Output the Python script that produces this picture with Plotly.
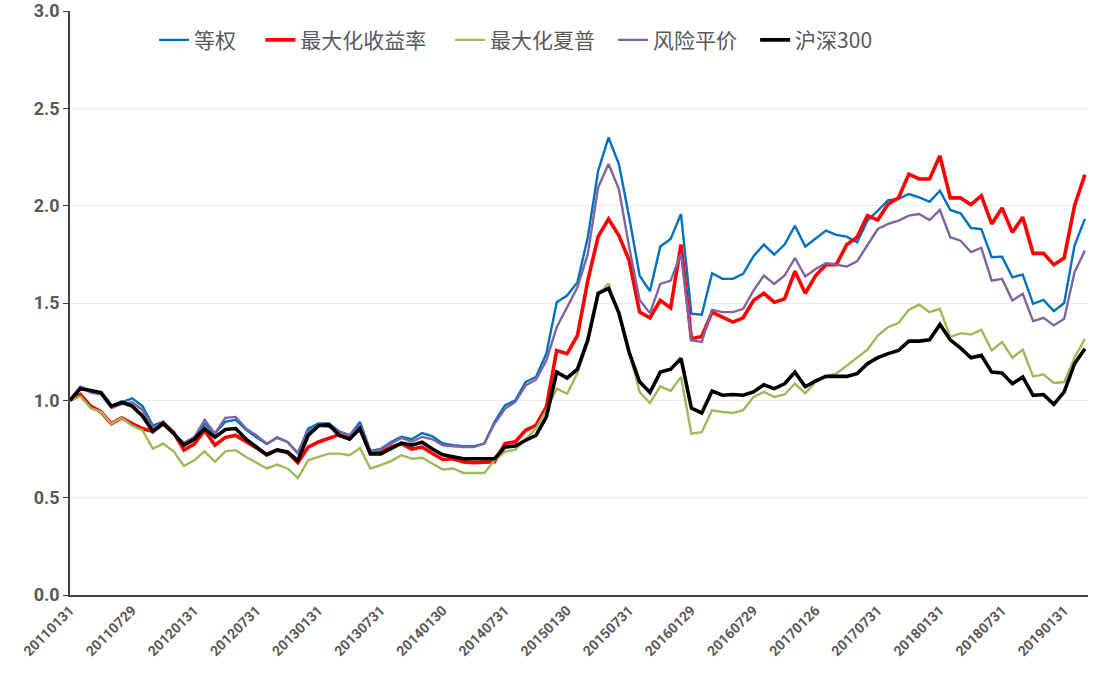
import plotly.graph_objects as go

# Monthly categories 2011-01 .. 2019-03 (99 points)
months = [f"{2011 + m // 12}{m % 12 + 1:02d}" for m in range(99)]

tick_labels = ["20110131", "20110729", "20120131", "20120731", "20130131", "20130731",
               "20140130", "20140731", "20150130", "20150731", "20160129", "20160729",
               "20170126", "20170731", "20180131", "20180731", "20190131"]

equal_weight = [1.00, 1.07, 1.05, 1.04, 0.97, 0.99, 1.01, 0.97, 0.87, 0.89,
                0.83, 0.78, 0.81, 0.88, 0.83, 0.89, 0.90, 0.85, 0.81, 0.775,
                0.81, 0.786, 0.73, 0.855, 0.881, 0.881, 0.84, 0.82, 0.889, 0.74,
                0.75, 0.786, 0.813, 0.80, 0.832, 0.815, 0.778, 0.769, 0.764, 0.764,
                0.778, 0.889, 0.974, 1.00, 1.094, 1.12, 1.24, 1.504, 1.538, 1.607,
                1.838, 2.179, 2.35, 2.214, 1.94, 1.641, 1.561, 1.79, 1.829, 1.957,
                1.445, 1.44, 1.653, 1.624, 1.624, 1.65, 1.74, 1.80, 1.749, 1.80,
                1.897, 1.79, 1.829, 1.872, 1.85, 1.841, 1.812, 1.923, 1.974, 2.029,
                2.035, 2.06, 2.043, 2.02, 2.077, 1.978, 1.961, 1.885, 1.88, 1.735,
                1.738, 1.632, 1.646, 1.496, 1.516, 1.458, 1.50, 1.795, 1.932]

max_return = [1.00, 1.03, 0.97, 0.94, 0.88, 0.91, 0.88, 0.855, 0.84, 0.885,
              0.835, 0.745, 0.775, 0.845, 0.77, 0.81, 0.82, 0.786, 0.752, 0.723,
              0.744, 0.732, 0.68, 0.76, 0.786, 0.803, 0.824, 0.81, 0.851, 0.73,
              0.735, 0.76, 0.778, 0.75, 0.76, 0.727, 0.696, 0.70, 0.684, 0.68,
              0.68, 0.684, 0.778, 0.787, 0.846, 0.872, 0.966, 1.256, 1.24, 1.333,
              1.615, 1.841, 1.932, 1.846, 1.718, 1.453, 1.424, 1.513, 1.475, 1.80,
              1.316, 1.328, 1.453, 1.427, 1.402, 1.424, 1.513, 1.55, 1.504, 1.521,
              1.663, 1.55, 1.641, 1.697, 1.697, 1.80, 1.838, 1.949, 1.926, 2.009,
              2.04, 2.162, 2.137, 2.137, 2.256, 2.04, 2.04, 2.005, 2.051, 1.906,
              1.988, 1.863, 1.94, 1.755, 1.755, 1.697, 1.731, 2.00, 2.159]

max_sharpe = [1.00, 1.02, 0.96, 0.94, 0.88, 0.91, 0.87, 0.846, 0.752, 0.778,
              0.738, 0.663, 0.692, 0.738, 0.684, 0.738, 0.744, 0.709, 0.68, 0.65,
              0.67, 0.65, 0.60, 0.692, 0.709, 0.726, 0.726, 0.718, 0.755, 0.65,
              0.667, 0.688, 0.718, 0.70, 0.705, 0.675, 0.645, 0.65, 0.627, 0.627,
              0.627, 0.692, 0.735, 0.747, 0.803, 0.855, 0.949, 1.06, 1.034, 1.14,
              1.30, 1.54, 1.60, 1.44, 1.25, 1.043, 0.986, 1.072, 1.048, 1.12,
              0.829, 0.836, 0.949, 0.94, 0.935, 0.949, 1.017, 1.043, 1.017, 1.03,
              1.085, 1.036, 1.094, 1.123, 1.137, 1.179, 1.219, 1.26, 1.333, 1.376,
              1.397, 1.465, 1.492, 1.453, 1.47, 1.325, 1.345, 1.338, 1.362, 1.256,
              1.299, 1.219, 1.26, 1.123, 1.133, 1.089, 1.094, 1.219, 1.316]

risk_parity = [1.00, 1.07, 1.04, 1.03, 0.96, 0.98, 0.99, 0.95, 0.86, 0.88,
               0.83, 0.78, 0.81, 0.90, 0.83, 0.91, 0.915, 0.855, 0.82, 0.778,
               0.807, 0.786, 0.727, 0.841, 0.872, 0.863, 0.838, 0.82, 0.872, 0.738,
               0.748, 0.778, 0.807, 0.787, 0.812, 0.80, 0.769, 0.764, 0.76, 0.76,
               0.778, 0.88, 0.957, 0.992, 1.077, 1.106, 1.205, 1.376, 1.479, 1.581,
               1.752, 2.094, 2.214, 2.085, 1.786, 1.516, 1.448, 1.598, 1.615, 1.755,
               1.308, 1.30, 1.465, 1.453, 1.453, 1.47, 1.564, 1.641, 1.598, 1.641,
               1.731, 1.636, 1.675, 1.704, 1.697, 1.687, 1.714, 1.795, 1.88, 1.906,
               1.923, 1.949, 1.957, 1.926, 1.978, 1.838, 1.82, 1.761, 1.783, 1.615,
               1.624, 1.513, 1.547, 1.407, 1.424, 1.385, 1.419, 1.658, 1.769]

csi300 = [1.00, 1.06, 1.05, 1.04, 0.97, 0.99, 0.97, 0.92, 0.84, 0.88,
          0.83, 0.77, 0.80, 0.855, 0.81, 0.85, 0.855, 0.80, 0.76, 0.72,
          0.745, 0.735, 0.69, 0.82, 0.87, 0.875, 0.82, 0.80, 0.855, 0.725,
          0.725, 0.75, 0.78, 0.77, 0.785, 0.75, 0.72, 0.71, 0.70, 0.70,
          0.70, 0.70, 0.76, 0.765, 0.795, 0.82, 0.915, 1.145, 1.115, 1.16,
          1.31, 1.55, 1.575, 1.45, 1.245, 1.095, 1.04, 1.145, 1.16, 1.215,
          0.96, 0.935, 1.048, 1.026, 1.03, 1.026, 1.043, 1.08, 1.06, 1.085,
          1.145, 1.07, 1.10, 1.123, 1.123, 1.123, 1.137, 1.188, 1.219, 1.24,
          1.256, 1.304, 1.304, 1.311, 1.39, 1.311, 1.268, 1.219, 1.231, 1.145,
          1.14, 1.085, 1.12, 1.026, 1.03, 0.979, 1.043, 1.188, 1.265]

series = [
    ("等权", equal_weight, "#0070C0", 2.4),
    ("最大化收益率", max_return, "#FF0000", 3.6),
    ("最大化夏普", max_sharpe, "#9BBB59", 2.4),
    ("风险平价", risk_parity, "#8064A2", 2.4),
    ("沪深300", csi300, "#000000", 3.6),
]

# horizontal legend entry anchors (paper x)
legend_x = [0.0826, 0.1870, 0.3734, 0.5335, 0.6730]
legend_ids = ["legend", "legend2", "legend3", "legend4", "legend5"]

fig = go.Figure()
for (name, vals, color, width), lid in zip(series, legend_ids):
    fig.add_trace(go.Scatter(x=months, y=vals, mode="lines", name=name, legend=lid,
                             line=dict(color=color, width=width)))

legend_font = dict(family="Noto Sans CJK SC", size=21, color="#595959")
legends = {}
for lid, lx in zip(legend_ids, legend_x):
    legends[lid] = dict(orientation="h", x=lx, xanchor="left", y=0.95, yanchor="middle",
                        font=legend_font, bgcolor="rgba(0,0,0,0)", borderwidth=0)

tick_positions = [months[i] for i in range(0, 97, 6)]

fig.update_layout(
    width=1101, height=690,
    margin=dict(l=70, r=13, t=11, b=95, autoexpand=False),
    paper_bgcolor="white", plot_bgcolor="white",
    showlegend=True,
    xaxis=dict(type="category", categoryorder="array", categoryarray=months,
               range=[0, 98.3], tickmode="array", tickvals=tick_positions,
               ticktext=tick_labels, tickangle=-45, showgrid=False, automargin=False,
               showline=True, linecolor="#404040", linewidth=1.5, ticks="",
               tickfont=dict(family="Roboto", size=14, color="#595959", weight="bold")),
    yaxis=dict(range=[0, 3], tickvals=[0, 0.5, 1.0, 1.5, 2.0, 2.5, 3.0], automargin=False,
               tickformat=".1f", ticksuffix="\u00a0" * 4,
               showgrid=True, gridcolor="#EBEBEB", gridwidth=1,
               zeroline=False, showline=True, linecolor="#404040", linewidth=1.5,
               ticks="outside", ticklen=5, tickcolor="#404040",
               tickfont=dict(family="Roboto", size=18, color="#595959", weight="bold")),
    **legends,
)

fig.write_html("out.html", config={"displayModeBar": False},
               post_script="document.body.style.margin='0';document.body.style.overflow='hidden';")
